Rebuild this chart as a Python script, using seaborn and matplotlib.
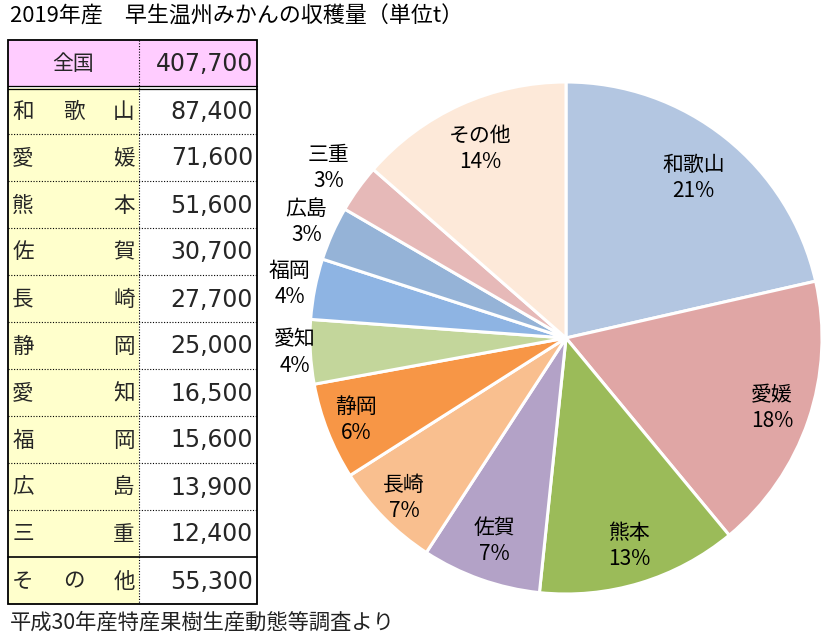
# 2019年産 早生温州みかんの収穫量 - table + pie chart

import numpy as np
import seaborn as sns
import matplotlib.pyplot as plt
from matplotlib.patches import Rectangle

sns.set_theme(style="white")
plt.rcParams['font.family'] = ['Noto Sans CJK JP', 'DejaVu Sans']

# data
prefs = ["和歌山", "愛媛", "熊本", "佐賀", "長崎", "静岡", "愛知", "福岡", "広島", "三重", "その他"]
harvest = [87400, 71600, 51600, 30700, 27700, 25000, 16500, 15600, 13900, 12400, 55300]
pct_labels = ["21%", "18%", "13%", "7%", "7%", "6%", "4%", "4%", "3%", "3%", "14%"]
total = 407700
table_names = ["和歌山", "愛媛", "熊本", "佐賀", "長崎", "静岡", "愛知", "福岡", "広島", "三重", "その他"]

colors = ["#B3C6E1", "#E0A6A5", "#9BBB59", "#B3A2C7", "#F9BF8F", "#F79646",
          "#C3D69B", "#8EB4E3", "#95B3D7", "#E6B9B8", "#FDE9D9"]
sns.set_palette(colors)

W, H = 829, 642
fig = plt.figure(figsize=(W / 100, H / 100), dpi=100)

# ---- pie ----
cx, cy, r = 566, 338, 256
ax = fig.add_axes([(cx - r) / W, (H - cy - r) / H, 2 * r / W, 2 * r / H])
wedges, _ = ax.pie(harvest, startangle=90, counterclock=False,
                   colors=sns.color_palette(),
                   wedgeprops=dict(edgecolor="white", linewidth=2.2))
ax.set_xlim(-1, 1)
ax.set_ylim(-1, 1)

# label distance from centre (fraction of radius)
label_dist = [0.80, 0.85, 0.85, 0.84, 0.89, 0.88, 1.06, 1.10, 1.11, 1.14, 0.81]
for w, name, pct, d in zip(wedges, prefs, pct_labels, label_dist):
    ang = np.deg2rad((w.theta1 + w.theta2) / 2)
    ax.text(d * np.cos(ang), d * np.sin(ang), f"{name}\n{pct}",
            ha="center", va="center", fontsize=15, linespacing=1.25,
            color="black")

# ---- table (pixel coordinates) ----
tx = fig.add_axes([0, 0, 1, 1], zorder=-1)
tx.set_xlim(0, W)
tx.set_ylim(H, 0)
tx.axis("off")

left, mid, right = 8, 139, 257
top, head_bot = 40, 86
row_h = 47
rows_top = 88
bottom = rows_top + row_h * len(table_names) - 1
num_font = dict(family="DejaVu Sans", fontsize=17)

tx.add_patch(Rectangle((left, top), right - left, head_bot - top, facecolor="#FFCCFF", edgecolor="none"))
tx.add_patch(Rectangle((left, rows_top), mid - left, bottom - rows_top, facecolor="#FFFFCC", edgecolor="none"))

tx.text((left + mid) / 2, (top + head_bot) / 2 + 1, "全国", ha="center", va="center", fontsize=15)
tx.text(right - 4, (top + head_bot) / 2 + 1, f"{total:,}", ha="right", va="center", **num_font)

for i, (name, val) in enumerate(zip(table_names, harvest)):
    yc = rows_top + row_h * i + row_h / 2
    n = len(name)
    xs = np.linspace(23, 124, n)
    for ch, xch in zip(name, xs):
        tx.text(xch, yc, ch, ha="center", va="center", fontsize=15.5)
    tx.text(right - 4, yc, f"{val:,}", ha="right", va="center", **num_font)
    ybot = rows_top + row_h * (i + 1) - 1
    if i < len(table_names) - 2:
        tx.plot([left, right], [ybot, ybot], color="black", linestyle=(0, (1, 1.5)), linewidth=0.8)
    elif i == len(table_names) - 2:
        tx.plot([left, right], [ybot, ybot], color="black", linewidth=1.2)

# double line under header
tx.plot([left, right], [head_bot, head_bot], color="black", linewidth=0.9)
tx.plot([left, right], [head_bot + 2.5, head_bot + 2.5], color="black", linewidth=0.9)
# dotted column divider
tx.plot([mid, mid], [top, bottom], color="black", linestyle=(0, (1, 1.5)), linewidth=0.8)
# outer border
tx.add_patch(Rectangle((left, top), right - left, bottom - top, facecolor="none", edgecolor="black", linewidth=1.3))

# title and source
fig.text(10 / W, 1 - 17 / H, "2019年産　早生温州みかんの収穫量（単位t）", ha="left", va="center",
         fontsize=15.8, color="black")
fig.text(10 / W, 1 - 623 / H, "平成30年産特産果樹生産動態等調査より", ha="left", va="center",
         fontsize=15.3, color="#222222")

fig.savefig("out.png", dpi=100, facecolor="white")
